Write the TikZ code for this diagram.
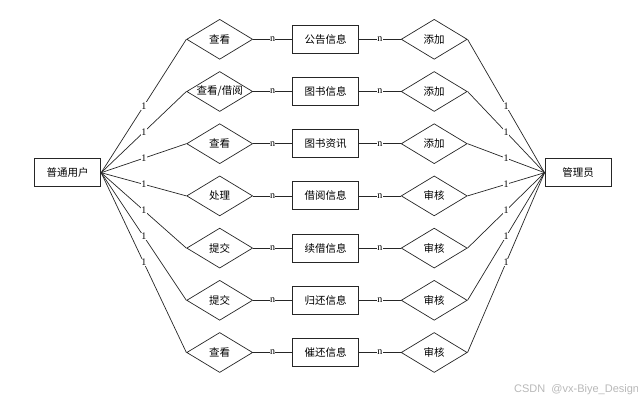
\documentclass[tikz,border=0pt]{standalone}
\usepackage{fontspec}
\setmainfont{Liberation Serif}
\newfontfamily\cjk{Noto Sans CJK SC}
\newfontfamily\wmfont{Liberation Sans}
\usetikzlibrary{shapes.geometric}
\begin{document}
\begin{tikzpicture}[x=1pt,y=-1pt,
  ent/.style={draw=black!85,line width=0.9pt,minimum width=66pt,minimum height=28pt,inner sep=0pt,font=\cjk\fontsize{10.5}{11}\selectfont},
  rel/.style={draw=black!85,line width=0.7pt,shape=diamond,minimum width=66pt,minimum height=40pt,inner sep=0pt},
  rtxt/.style={font=\cjk\fontsize{10.5}{11}\selectfont},
  conn/.style={draw=black!85,line width=0.7pt},
  card/.style={fill=white,inner sep=0.4pt,font=\fontsize{10}{10}\selectfont},
]
\useasboundingbox (0,0) rectangle (638,401);
\node[ent] (user) at (67.7,172.7) {普通用户};
\node[ent] (admin) at (578,172.7) {管理员};
\node[rel,label={[rtxt]center:查看}] (l1) at (219.7,39.3) {};
\node[rel,label={[rtxt]center:查看/借阅}] (l2) at (219.7,91.5) {};
\node[rel,label={[rtxt]center:查看}] (l3) at (219.7,143.7) {};
\node[rel,label={[rtxt]center:处理}] (l4) at (219.7,195.9) {};
\node[rel,label={[rtxt]center:提交}] (l5) at (219.7,248.1) {};
\node[rel,label={[rtxt]center:提交}] (l6) at (219.7,300.3) {};
\node[rel,label={[rtxt]center:查看}] (l7) at (219.7,352.5) {};
\node[ent] (e1) at (325.5,39.3) {公告信息};
\node[ent] (e2) at (325.5,91.5) {图书信息};
\node[ent] (e3) at (325.5,143.7) {图书资讯};
\node[ent] (e4) at (325.5,195.9) {借阅信息};
\node[ent] (e5) at (325.5,248.1) {续借信息};
\node[ent] (e6) at (325.5,300.3) {归还信息};
\node[ent] (e7) at (325.5,352.5) {催还信息};
\node[rel,label={[rtxt]center:添加}] (r1) at (434.2,39.3) {};
\node[rel,label={[rtxt]center:添加}] (r2) at (434.2,91.5) {};
\node[rel,label={[rtxt]center:添加}] (r3) at (434.2,143.7) {};
\node[rel,label={[rtxt]center:审核}] (r4) at (434.2,195.9) {};
\node[rel,label={[rtxt]center:审核}] (r5) at (434.2,248.1) {};
\node[rel,label={[rtxt]center:审核}] (r6) at (434.2,300.3) {};
\node[rel,label={[rtxt]center:审核}] (r7) at (434.2,352.5) {};
\foreach \i in {1,...,7}{
  \draw[conn] (user.east) -- (l\i.west) node[card,midway]{1};
  \draw[conn] (l\i.east) -- (e\i.west) node[card,midway]{n};
  \draw[conn] (e\i.east) -- (r\i.west) node[card,midway]{n};
  \draw[conn] (admin.west) -- (r\i.east) node[card,midway]{1};
}
\node[anchor=west,inner sep=0pt,text=black!28,font=\wmfont\fontsize{11}{12}\selectfont] (wm) at (514,390) {CSDN\ \ @vx-Biye\_Design};
\end{tikzpicture}
\end{document}
